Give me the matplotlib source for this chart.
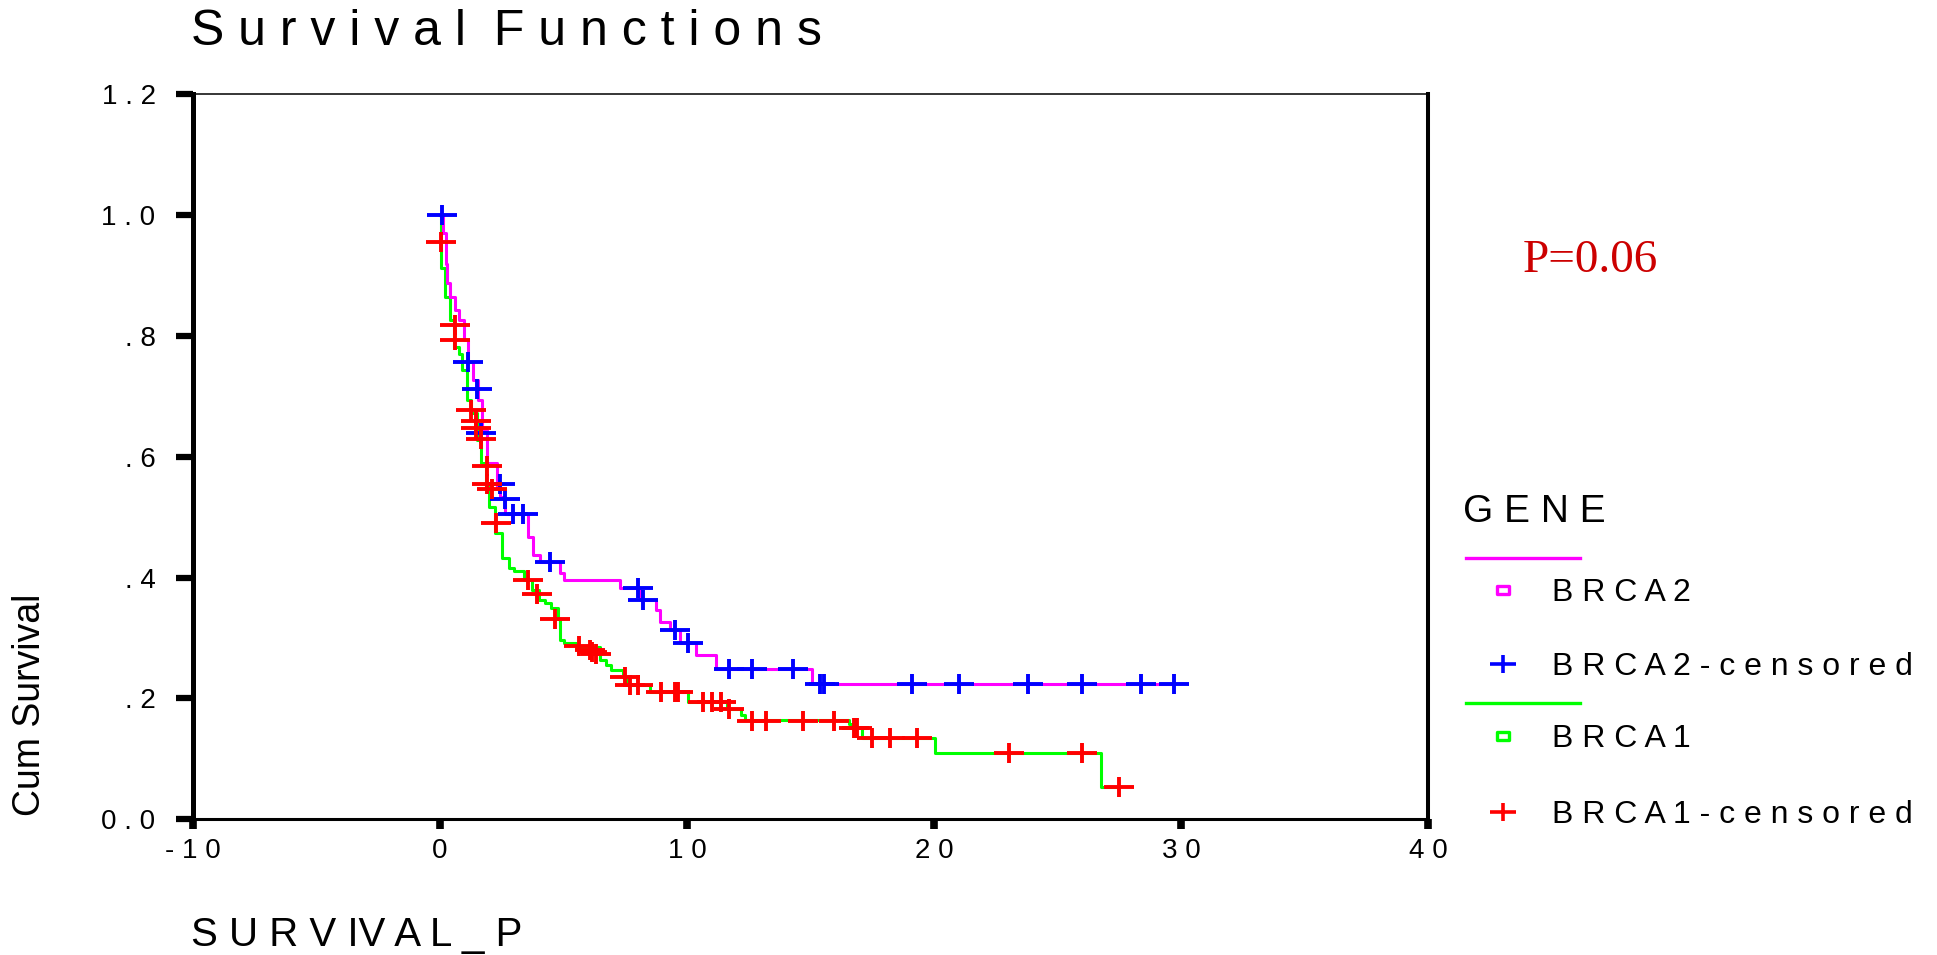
"""
Kaplan-Meier survival curves, BRCA2 vs BRCA1 (SPSS-style layout).
"""

import matplotlib
matplotlib.use("Agg")
import matplotlib.pyplot as plt
from matplotlib.lines import Line2D
from matplotlib.path import Path

# ---- data ------------------------------------------------------------
# step curves: time of each drop and the survival level after it
brca2_time = [0, 0.13, 0.24, 0.30, 0.40, 0.61, 0.78, 0.97, 1.15, 1.35, 1.52,
              1.72, 1.91, 2.29, 2.43, 2.65, 3.57, 3.75, 4.04, 4.85, 5.01,
              7.28, 8.1, 8.76, 8.89, 9.3, 9.7, 10.37, 11.16, 15.06]
brca2_surv = [1.0, 0.97, 0.92, 0.887, 0.865, 0.843, 0.826, 0.793, 0.757, 0.727,
              0.694, 0.644, 0.589, 0.550, 0.534, 0.506, 0.467, 0.437, 0.426,
              0.407, 0.396, 0.382, 0.363, 0.346, 0.327, 0.313, 0.292, 0.272,
              0.248, 0.223]
brca2_end = 29.7

brca1_time = [0, 0.05, 0.2, 0.39, 0.57, 0.77, 0.9, 1.1, 1.27, 1.5, 1.64, 1.87,
              2.0, 2.24, 2.5, 2.78, 2.98, 3.39, 3.72, 3.99, 4.24, 4.49, 4.78,
              4.85, 5.01, 5.52, 6.47, 6.74, 6.94, 7.41, 7.58, 8.49, 10.04,
              11.6, 12.19, 12.33, 16.57, 16.84, 17.1, 20.05, 26.75]
brca1_surv = [1.0, 0.912, 0.865, 0.826, 0.782, 0.771, 0.743, 0.694, 0.672,
              0.627, 0.589, 0.55, 0.517, 0.473, 0.432, 0.415, 0.41, 0.396,
              0.38, 0.363, 0.357, 0.349, 0.332, 0.296, 0.292, 0.285, 0.263,
              0.255, 0.247, 0.236, 0.222, 0.211, 0.194, 0.183, 0.172, 0.164,
              0.158, 0.150, 0.134, 0.109, 0.053]
brca1_end = 27.5

# censored observations
brca2_cens_t = [0.1, 1.15, 1.48, 1.68, 2.43, 2.63, 2.96, 3.37, 4.47, 8.0, 8.2,
                9.5, 10.04, 11.7, 12.64, 14.3, 15.4, 15.56, 19.1, 21.0, 23.8,
                26.0, 28.4, 29.7]
brca2_cens_s = [1.0, 0.757, 0.713, 0.639, 0.555, 0.530, 0.506, 0.506, 0.426,
                0.382, 0.363, 0.313, 0.292, 0.248, 0.248, 0.248, 0.223, 0.223,
                0.223, 0.223, 0.223, 0.223, 0.223, 0.223]

brca1_cens_t = [0.04, 0.61, 0.61, 1.25, 1.46, 1.46, 1.66, 1.91, 1.91, 2.12,
                2.26, 3.57, 3.93, 4.65, 5.63, 6.06, 6.17, 6.33, 7.48, 7.68,
                8.02, 8.96, 9.50, 9.63, 10.64, 11.02, 11.38, 11.72, 12.64,
                13.2, 14.68, 15.97, 16.77, 16.9, 17.47, 18.2, 19.33, 23.04,
                26.0, 27.5]
brca1_cens_s = [0.956, 0.818, 0.793, 0.678, 0.659, 0.648, 0.629, 0.584, 0.555,
                0.546, 0.491, 0.396, 0.372, 0.331, 0.286, 0.280, 0.277, 0.274,
                0.236, 0.222, 0.222, 0.211, 0.211, 0.211, 0.193, 0.193, 0.193,
                0.183, 0.163, 0.163, 0.163, 0.163, 0.150, 0.150, 0.134, 0.134,
                0.134, 0.109, 0.109, 0.053]

x_ticks = [-10, 0, 10, 20, 30, 40]
x_labels = ["- 1 0", "0", "1 0", "2 0", "3 0", "4 0"]
y_ticks = [0.0, 0.2, 0.4, 0.6, 0.8, 1.0, 1.2]
y_labels = ["0 . 0", ". 2", ". 4", ". 6", ". 8", "1 . 0", "1 . 2"]

p_text = "P=0.06"

# ---- styling ----------------------------------------------------------
W, H = 1937, 955
MAGENTA, GREEN, BLUE, RED = "#FF00FF", "#00FF00", "#0000FF", "#FF0000"
SANS = "Liberation Sans"

# wide "+" used by SPSS for censored cases
plus = Path([(-1.5, 0), (1.5, 0), (0, -1), (0, 1)],
            [Path.MOVETO, Path.LINETO, Path.MOVETO, Path.LINETO])
box = Path([(-1.5, -1), (1.5, -1), (1.5, 1), (-1.5, 1), (-1.5, -1)],
           [Path.MOVETO, Path.LINETO, Path.LINETO, Path.LINETO, Path.CLOSEPOLY])


def fx(px):
    return px / W


def fy(py):
    return 1 - py / H


fig = plt.figure(figsize=(W / 100, H / 100), dpi=100)
ax = fig.add_axes([fx(193), fy(819), fx(1428) - fx(193), fy(94.5) - fy(819)])

# survival step curves (extend to last follow-up)
ax.step(brca1_time + [brca1_end], brca1_surv + [brca1_surv[-1]],
        where="post", color=GREEN, lw=2.2, zorder=2)
ax.step(brca2_time + [brca2_end], brca2_surv + [brca2_surv[-1]],
        where="post", color=MAGENTA, lw=2.2, zorder=3)

ax.plot(brca2_cens_t, brca2_cens_s, ls="none", marker=plus, ms=21.5,
        mew=2.8, color=BLUE, zorder=4)
ax.plot(brca1_cens_t, brca1_cens_s, ls="none", marker=plus, ms=21.5,
        mew=2.8, color=RED, zorder=5)

ax.set_xlim(-10, 40)
ax.set_ylim(0, 1.2)
ax.set_xticks(x_ticks)
ax.set_xticklabels(x_labels, family=SANS, fontsize=20)
ax.set_yticks(y_ticks)
ax.set_yticklabels(y_labels, family=SANS, fontsize=20)
ax.tick_params(axis="x", direction="out", length=7, width=5.5, pad=7)
ax.tick_params(axis="y", direction="out", length=12, width=4.5, pad=15)

for side, lw in (("left", 3.6), ("bottom", 2.2), ("right", 2.9), ("top", 1.1)):
    ax.spines[side].set_linewidth(lw)
    ax.spines[side].set_color("black")

# titles and axis labels
fig.text(fx(191), fy(32), "S u r v i v a l  F u n c t i o n s",
         family=SANS, fontsize=36, va="center", ha="left")
fig.text(fx(191), fy(935), "S U R V IV A L _ P",
         family=SANS, fontsize=29, va="center", ha="left")
fig.text(fx(30), fy(705), "Cum Survival", rotation=90,
         family=SANS, fontsize=27, va="center", ha="center")
fig.text(fx(1523), fy(272), p_text, family="Liberation Serif",
         fontsize=34, color="#CC0000", va="baseline", ha="left")

# legend, drawn by hand in SPSS style
fig.text(fx(1463), fy(512), "G E N E", family=SANS, fontsize=28,
         va="center", ha="left")
legend_rows = [
    (558, None, MAGENTA, None),
    (590, box, MAGENTA, "B R C A 2"),
    (664, plus, BLUE, "B R C A 2 - c e n s o r e d"),
    (703, None, GREEN, None),
    (736, box, GREEN, "B R C A 1"),
    (812, plus, RED, "B R C A 1 - c e n s o r e d"),
]
for py, mk, col, label in legend_rows:
    if mk is None:
        fig.add_artist(Line2D([fx(1466), fx(1580)], [fy(py), fy(py)],
                              color=col, lw=2.4, transform=fig.transFigure))
        continue
    size, mew = (9, 2.4) if mk is box else (19, 2.6)
    fig.add_artist(Line2D([fx(1503)], [fy(py)], ls="none", marker=mk,
                          ms=size, mew=mew, mec=col, mfc="none",
                          transform=fig.transFigure))
    fig.text(fx(1552), fy(py + 3), label, family=SANS, fontsize=23,
             va="center", ha="left")

fig.savefig("out.png", dpi=100)
